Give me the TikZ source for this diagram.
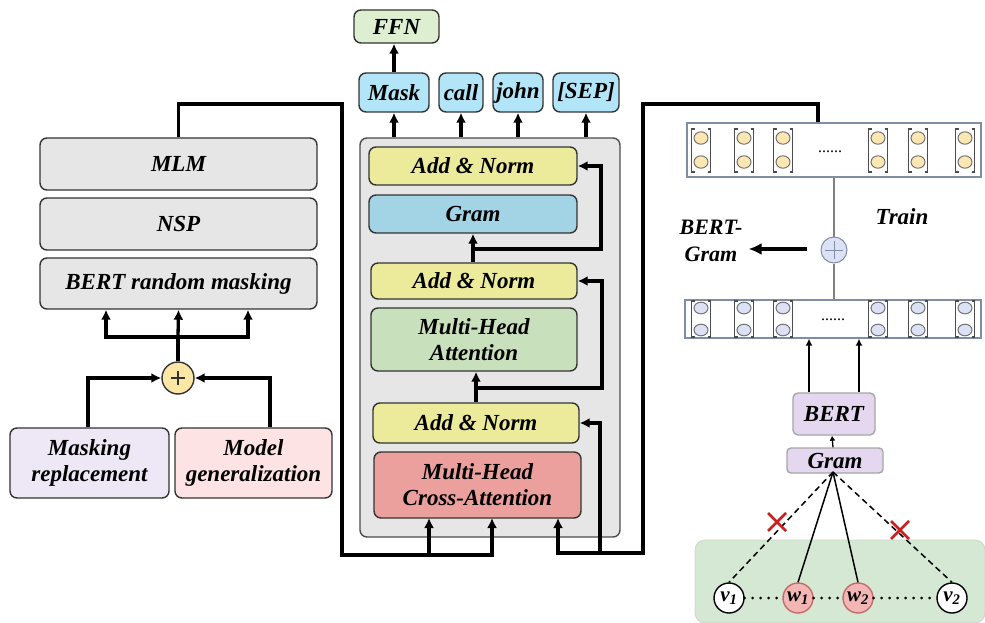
\documentclass[tikz,border=0pt]{standalone}
\usepackage{fontspec}
\setmainfont{Liberation Serif}
\usetikzlibrary{arrows.meta}

\definecolor{panelgray}{HTML}{E6E6E6}
\definecolor{lilac}{HTML}{EDE7F6}
\definecolor{rosy}{HTML}{FDE3E3}
\definecolor{sumyellow}{HTML}{FCE7A6}
\definecolor{ffngreen}{HTML}{DDEFD0}
\definecolor{tokblue}{HTML}{B3E5F8}
\definecolor{normyellow}{HTML}{ECEB9C}
\definecolor{gramblue}{HTML}{A2D4E6}
\definecolor{attgreen}{HTML}{C9E0BC}
\definecolor{crossred}{HTML}{ECA09E}
\definecolor{edgegray}{HTML}{7F8DA6}
\definecolor{dotyellow}{HTML}{FCE7B2}
\definecolor{dotlilac}{HTML}{DDE1F6}
\definecolor{bertlilac}{HTML}{E4D7EF}
\definecolor{graphgreen}{HTML}{D5E8D3}
\definecolor{wordpink}{HTML}{F2B7B5}
\definecolor{wordred}{HTML}{C46A68}
\definecolor{crossmark}{HTML}{C8201E}

\begin{document}
\begin{tikzpicture}[x=1pt,y=-1pt,
  font=\fontsize{23}{26}\selectfont\bfseries\itshape,
  box/.style={draw=black!80,line width=1.4pt,rounded corners=7pt,inner sep=0pt,align=center},
  conn/.style={line width=3.3pt},
  arr/.style={conn,-{Latex[length=10pt,width=10pt]}},
  thinarr/.style={line width=1.6pt,-{Latex[length=7pt,width=7pt]}},
  vecbox/.style={draw=edgegray,line width=1.3pt,fill=white,minimum width=294pt},
  bracket/.style={draw=black!70,line width=1.2pt},
  word/.style={circle,draw=wordred,line width=1.4pt,fill=wordpink,minimum size=30pt,inner sep=0pt,font=\fontsize{21}{22}\selectfont\bfseries\itshape},
  vertex/.style={word,draw=black,fill=white}]
\useasboundingbox (0,0) rectangle (985,623);

% pre-training tasks
\node[box,fill=panelgray,minimum width=277pt,minimum height=52pt] (mlm) at (178.5,164) {MLM};
\node[box,fill=panelgray,minimum width=277pt,minimum height=52pt] (nsp) at (178.5,224) {NSP};
\node[box,fill=panelgray,minimum width=277pt,minimum height=51pt] (brm) at (178.5,283.5) {BERT random masking};
\node[circle,draw=black!80,line width=1.4pt,fill=sumyellow,minimum size=32pt,inner sep=0pt,
  path picture={\draw[line width=2.4pt] (path picture bounding box.center) ++(-7pt,0) -- ++(14pt,0)
  (path picture bounding box.center) ++(0,-7pt) -- ++(0,14pt);}] (plus) at (178,378) {};
\node[box,fill=lilac,minimum width=159pt,minimum height=70pt] (maskrep) at (89.5,463) {Masking\\replacement};
\node[box,fill=rosy,minimum width=157pt,minimum height=70pt] (modgen) at (253.5,463) {Model\\generalization};

\coordinate (split) at (178,337);
\draw[arr] ([xshift=-1.5pt]maskrep.north) |- (plus.west);
\draw[arr] ([xshift=16.5pt]modgen.north) |- (plus.east);
\draw[conn] (plus.north) -- (split);
\draw[arr] (split) -- (brm.south);
\draw[arr] (split) -| ([xshift=-72.5pt]brm.south);
\draw[arr] (split) -| ([xshift=69.5pt]brm.south);

% decoder block
\node[box,fill=panelgray,draw=black!70,minimum width=260pt,minimum height=399pt] (dec) at (490,337.5) {};
\node[box,fill=normyellow,minimum width=208pt,minimum height=38pt] (an1) at (473,166) {Add \& Norm};
\node[box,fill=gramblue,minimum width=208pt,minimum height=38pt] (gram) at (473,214) {Gram};
\node[box,fill=normyellow,minimum width=206pt,minimum height=36pt] (an2) at (474,281) {Add \& Norm};
\node[box,fill=attgreen,minimum width=206pt,minimum height=63pt] (mha) at (474,339.5) {Multi-Head\\Attention};
\node[box,fill=normyellow,minimum width=206pt,minimum height=40pt] (an3) at (476,423) {Add \& Norm};
\node[box,fill=crossred,minimum width=207pt,minimum height=66pt] (mhca) at (477.5,485) {Multi-Head\\Cross-Attention};

% outputs
\node[box,fill=ffngreen,minimum width=85pt,minimum height=33pt] (ffn) at (396.5,26.5) {FFN};
\node[box,fill=tokblue,minimum width=70pt,minimum height=39pt] (mask) at (394,92.5) {Mask};
\node[box,fill=tokblue,minimum width=44pt,minimum height=39pt] (call) at (461,92.5) {call};
\node[box,fill=tokblue,minimum width=50pt,minimum height=39pt] (john) at (518,92.5) {john};
\node[box,fill=tokblue,minimum width=66pt,minimum height=39pt] (sep) at (586,92.5) {[SEP]};

\draw[arr] (mask.north) -- (ffn.south -| mask.north);
\foreach \tok in {mask,call,john,sep}
  \draw[arr] (\tok.south |- dec.north) -- (\tok.south);

% residual connections
\coordinate (r1) at (601,249);
\coordinate (r2) at (602,388);
\coordinate (r3) at (600,553);
\draw[arr] (an2.north -| gram.south) -- (gram.south);
\draw[arr] (gram.south |- r1) -- (r1) |- (an1.east);
\draw[arr] (an3.north) -- (an3.north |- mha.south);
\draw[arr] (an3.north |- r2) -- (r2) |- (an2.east);
\draw[arr] (r3) |- (an3.east);

% inputs to cross-attention
\coordinate (tl) at (342,104);
\coordinate (bl) at (342,555);
\coordinate (q1) at (429,518);
\coordinate (q2) at (492,518);
\coordinate (q3) at (558,518);
\coordinate (tr) at (818,104);
\coordinate (trr) at (643,104);
\coordinate (br) at (643,553);
\draw[arr] (mlm.north) |- (tl) -- (bl) -| (q2);
\draw[arr] (q1 |- bl) -- (q1);

% BERT-Gram side
\node[vecbox,minimum height=54pt] (upvec) at (834,150) {};
\node[vecbox,minimum width=296pt,minimum height=38pt] (lowvec) at (833,319) {};
\draw[arr] (tr |- upvec.north) -- (tr) -- (trr) -- (br) -| (q3);

\foreach \vx in {701,744,783,878,918,965}{
  \draw[bracket] (\vx-6.5,129) -- (\vx-9.5,129) -- (\vx-9.5,172) -- (\vx-6.5,172);
  \draw[bracket] (\vx+6.5,129) -- (\vx+9.5,129) -- (\vx+9.5,172) -- (\vx+6.5,172);
  \draw[draw=black!55,fill=dotyellow,line width=1pt] (\vx,138) ellipse [x radius=7pt, y radius=6.2pt];
  \draw[draw=black!55,fill=dotyellow,line width=1pt] (\vx,162) ellipse [x radius=7pt, y radius=6.2pt];
  \draw[bracket] (\vx-6.5,301) -- (\vx-9.5,301) -- (\vx-9.5,337) -- (\vx-6.5,337);
  \draw[bracket] (\vx+6.5,301) -- (\vx+9.5,301) -- (\vx+9.5,337) -- (\vx+6.5,337);
  \draw[draw=black!55,fill=dotlilac,line width=1pt] (\vx,308) ellipse [x radius=7pt, y radius=5.8pt];
  \draw[draw=black!55,fill=dotlilac,line width=1pt] (\vx,330) ellipse [x radius=7pt, y radius=5.8pt];
}
\node[font=\fontsize{16}{16}\selectfont] (updots) at (830,152) {......};
\node[font=\fontsize{16}{16}\selectfont] (lowdots) at (833,320) {......};

\node[circle,draw=edgegray,fill=dotlilac,line width=1pt,minimum size=26pt,inner sep=0pt,
  path picture={\draw[edgegray,line width=1pt] (path picture bounding box.center) ++(-9pt,0) -- ++(18pt,0)
  (path picture bounding box.center) ++(0,-9pt) -- ++(0,18pt);}] (sum) at (834,250) {};
\draw[black!50,line width=1.3pt] (upvec.south -| sum) -- (sum.north);
\draw[black!50,line width=1.3pt] (sum.south) -- (lowvec.north -| sum);

\node (train) at (902,217) {Train};
\node[align=center,inner sep=0pt,font=\fontsize{22}{27}\selectfont\bfseries\itshape] (bg) at (711,241) {BERT-\\Gram};
\coordinate (sumout) at (807,249);
\draw[line width=3.5pt,-{Latex[length=13pt,width=12pt]}] (sumout) -- ([xshift=6pt]bg.east |- sumout);

\node[box,draw=black!35,fill=bertlilac,minimum width=82pt,minimum height=42pt,rounded corners=5pt] (bert) at (834,414) {BERT};
\node[box,draw=black!35,fill=bertlilac,minimum width=96pt,minimum height=25pt,rounded corners=4pt] (gramr) at (835,460.5) {Gram};
\draw[thinarr] ([xshift=-25pt]bert.north) -- ([xshift=-25pt]bert.north |- lowvec.south);
\draw[thinarr] ([xshift=25pt]bert.north) -- ([xshift=25pt]bert.north |- lowvec.south);
\draw[line width=1.3pt,-{Latex[length=5pt,width=6pt]}] ([xshift=-2pt]gramr.north) -- ([xshift=-2pt]bert.south);

% word graph
\draw[draw=graphgreen!80!black!60,fill=graphgreen,line width=0.8pt,rounded corners=10pt] (985,540) -| (695,623) -- (985,623) -- cycle;
\node[vertex] (v1) at (729,598) {v\textsubscript{1}};
\node[word] (w1) at (798,598) {w\textsubscript{1}};
\node[word] (w2) at (858,598) {w\textsubscript{2}};
\node[vertex] (v2) at (952,598) {v\textsubscript{2}};
\draw[line width=3pt,line cap=round,dash pattern=on 0pt off 8pt] (v1) -- (w1) -- (w2) -- (v2);
\coordinate (gsrc) at (833,472);
\draw[line width=1.5pt] (gsrc) -- (w1.north);
\draw[line width=1.5pt] (gsrc) -- (w2.north);
\draw[line width=1.5pt,dash pattern=on 6pt off 4pt] (gsrc) -- (v1.north);
\draw[line width=1.5pt,dash pattern=on 6pt off 4pt] (gsrc) -- (v2.north);
\draw[crossmark,line width=2.8pt] (768,513) -- (786,531) (768,531) -- (786,513);
\draw[crossmark,line width=2.8pt] (891,521) -- (909,539) (891,539) -- (909,521);
\end{tikzpicture}
\end{document}
